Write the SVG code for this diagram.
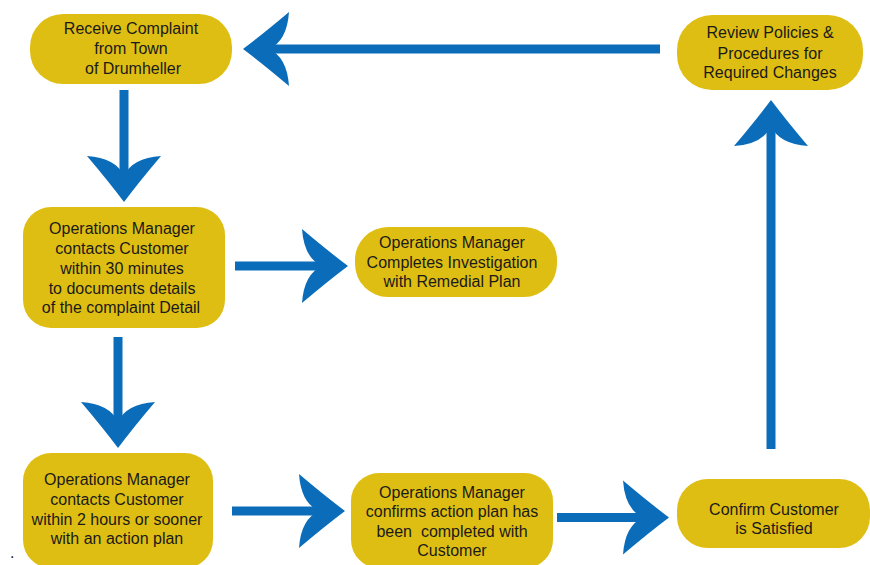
<svg xmlns="http://www.w3.org/2000/svg" width="870" height="565" viewBox="0 0 870 565">
<style>
.node{fill:#DFBE13;}
.t{font-family:"Liberation Sans",Arial,sans-serif;font-size:16px;fill:#1a1a1a;text-anchor:middle;}
.c{stroke:#0B6DBA;stroke-width:9;fill:none;marker-end:url(#ah);}
</style>
<defs>
<marker id="ah" viewBox="-50 -40 52 80" refX="-20" refY="0" markerWidth="52" markerHeight="80" markerUnits="userSpaceOnUse" orient="auto">
<path d="M0,0 Q-20,-15 -46,-37 Q-44,-8 -26,0 Q-44,8 -46,37 Q-20,15 0,0 Z" fill="#0B6DBA"/>
</marker>
</defs>
<rect width="870" height="565" fill="#ffffff"/>
<g id="connectors">
<line class="c" x1="660" y1="49" x2="263" y2="49"/>
<line class="c" x1="124" y1="90" x2="124" y2="182"/>
<line class="c" x1="235" y1="266" x2="328" y2="266"/>
<line class="c" x1="118" y1="337" x2="118" y2="428"/>
<line class="c" x1="232" y1="511" x2="325" y2="511"/>
<line class="c" x1="557" y1="517.5" x2="649" y2="517.5"/>
<line class="c" x1="771" y1="449" x2="771" y2="120"/>
</g>
<g id="n1">
<rect class="node" x="30" y="14" width="202" height="70" rx="33"/>
<text class="t" x="131" y="34">Receive Complaint</text>
<text class="t" x="131" y="54">from Town</text>
<text class="t" x="133" y="74">of Drumheller</text>
</g>
<g id="n2">
<rect class="node" x="677" y="15" width="186" height="75" rx="35"/>
<text class="t" x="770" y="38">Review Policies &amp;</text>
<text class="t" x="770" y="59">Procedures for</text>
<text class="t" x="770" y="78">Required Changes</text>
</g>
<g id="n3">
<rect class="node" x="23" y="207" width="202" height="121" rx="28"/>
<text class="t" x="122" y="234">Operations Manager</text>
<text class="t" x="122" y="254">contacts Customer</text>
<text class="t" x="122" y="274">within 30 minutes</text>
<text class="t" x="122" y="294">to documents details</text>
<text class="t" x="121" y="313">of the complaint Detail</text>
</g>
<g id="n4">
<rect class="node" x="355" y="227" width="202" height="70" rx="33"/>
<text class="t" x="452" y="248">Operations Manager</text>
<text class="t" x="452" y="268">Completes Investigation</text>
<text class="t" x="452" y="287">with Remedial Plan</text>
</g>
<g id="n5">
<rect class="node" x="23" y="453" width="190" height="115" rx="28"/>
<text class="t" x="117" y="485">Operations Manager</text>
<text class="t" x="117" y="505">contacts Customer</text>
<text class="t" x="117" y="525">within 2 hours or sooner</text>
<text class="t" x="117" y="544">with an action plan</text>
</g>
<g id="n6">
<rect class="node" x="351" y="473" width="202" height="95" rx="28"/>
<text class="t" x="452" y="498">Operations Manager</text>
<text class="t" x="452" y="517">confirms action plan has</text>
<text class="t" x="452" y="537" style="white-space:pre">been  completed with</text>
<text class="t" x="452" y="556">Customer</text>
</g>
<g id="n7">
<rect class="node" x="677" y="479" width="193" height="69" rx="31"/>
<text class="t" x="774" y="515">Confirm Customer</text>
<text class="t" x="774" y="534">is Satisfied</text>
</g>
<text x="10" y="558" style="font-family:'Liberation Sans',Arial,sans-serif;font-size:16px;fill:#1a1a1a">.</text>
</svg>
